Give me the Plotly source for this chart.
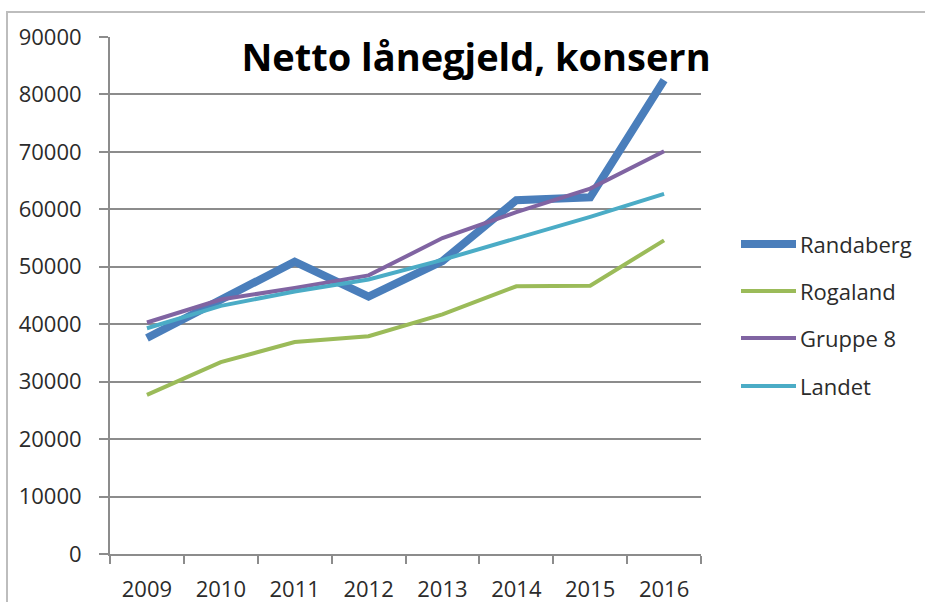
import plotly.graph_objects as go

years = ["2009", "2010", "2011", "2012", "2013", "2014", "2015", "2016"]
randaberg = [37600, 44200, 50900, 44800, 51000, 61600, 62100, 82500]
rogaland = [27700, 33400, 36900, 37900, 41700, 46600, 46700, 54600]
gruppe8 = [40300, 44300, 46300, 48500, 55000, 59500, 63600, 70100]
landet = [39300, 43200, 45700, 47800, 51200, 55000, 58700, 62700]
series_names = ["Randaberg", "Rogaland", "Gruppe 8", "Landet"]
y_ticks = [0, 10000, 20000, 30000, 40000, 50000, 60000, 70000, 80000, 90000]

colors = ["#4A7EBB", "#9BBB59", "#8064A2", "#4BACC6"]
widths = [8, 4, 4, 4]

W, H = 925, 602
L, R, T, B = 110, 701, 37, 554
FONT = "Open Sans"
TXT = "#2b2b2b"

def px(x):
    return (x - L) / (R - L)

def py(y):
    return (B - y) / (B - T)

fig = go.Figure()
for name, vals, c, w in zip(series_names, [randaberg, rogaland, gruppe8, landet], colors, widths):
    fig.add_trace(go.Scatter(x=years, y=vals, mode="lines", name=name,
                             line=dict(color=c, width=w), showlegend=False))

shapes = []
annotations = []
# outer border
shapes.append(dict(type="rect", xref="paper", yref="paper",
                   x0=px(7), x1=px(940), y0=py(620), y1=py(12),
                   line=dict(color="#BDBDBD", width=2), fillcolor="rgba(0,0,0,0)", layer="below"))
# manual legend
leg_y = [244, 291, 338, 386]
for name, c, w, yy in zip(series_names, colors, widths, leg_y):
    shapes.append(dict(type="line", xref="paper", yref="paper",
                       x0=px(741), x1=px(796), y0=py(yy), y1=py(yy),
                       line=dict(color=c, width=w)))
    annotations.append(dict(text=name, xref="paper", yref="paper", x=px(798), y=py(yy),
                            xanchor="left", yanchor="middle", showarrow=False,
                            font=dict(family=FONT, size=22, color=TXT)))

fig.update_layout(
    width=W, height=H,
    margin=dict(l=L, r=W - R, t=T, b=H - B, autoexpand=False),
    paper_bgcolor="white", plot_bgcolor="white",
    title=dict(text="<b>Netto lånegjeld, konsern</b>", x=476 / W, y=1 - 58 / H,
               xanchor="center", yanchor="middle", xref="container", yref="container",
               font=dict(family=FONT, size=38, color="black")),
    shapes=shapes, annotations=annotations,
    showlegend=False,
)
fig.update_xaxes(type="category", range=[-0.5, 7.5], tickson="boundaries", automargin=False,
                 ticks="outside", ticklen=8, tickwidth=2, tickcolor="#8C8C8C",
                 showline=True, linecolor="#8C8C8C", linewidth=2, showgrid=False,
                 tickfont=dict(family=FONT, size=22, color=TXT), ticklabelstandoff=15)
fig.update_yaxes(range=[0, 90000], tickvals=y_ticks, ticktext=[str(v) for v in y_ticks],
                 automargin=False,
                 ticks="outside", ticklen=9, tickwidth=2, tickcolor="#8C8C8C",
                 showline=True, linecolor="#8C8C8C", linewidth=2,
                 showgrid=True, gridcolor="#8C8C8C", gridwidth=2, zeroline=False,
                 tickfont=dict(family=FONT, size=22, color=TXT), ticklabelstandoff=13)
fig.write_html("out.html", config={"displayModeBar": False},
               post_script="document.body.style.margin='0';")
